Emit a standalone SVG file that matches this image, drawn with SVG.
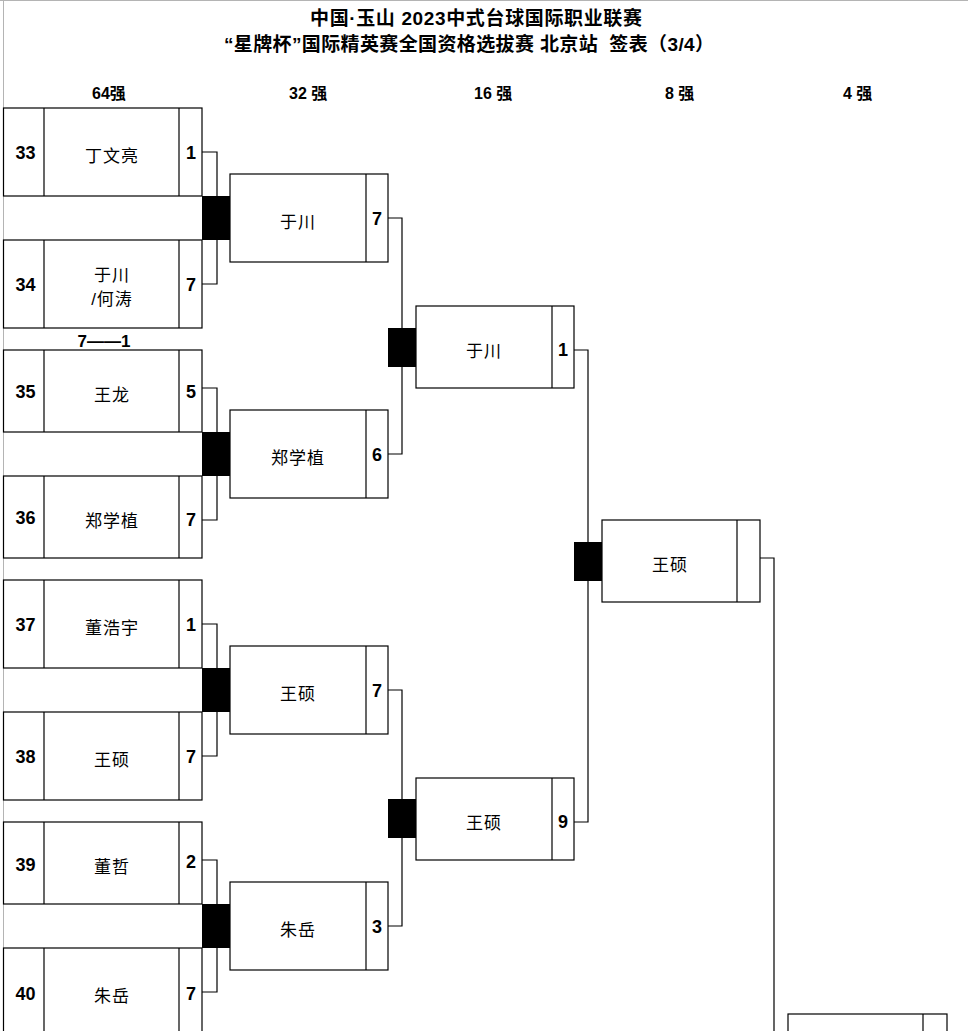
<svg xmlns="http://www.w3.org/2000/svg" width="968" height="1031" viewBox="0 0 968 1031">
<style>
.bg{fill:#ffffff}
.box{fill:#ffffff;stroke:#000;stroke-width:1.2}
.div{stroke:#000;stroke-width:1.2}
.jn{fill:#000}
.con{fill:none;stroke:#000;stroke-width:1.2}
.edge{stroke:#b4b4b4;stroke-width:1}
.t{font-family:"Liberation Sans","Noto Sans CJK SC",sans-serif;fill:#000}
.title{font-size:19px;font-weight:bold;white-space:pre}
.hd{font-size:16px;font-weight:bold}
.seed{font-size:18px;font-weight:bold;text-anchor:middle}
.nm{font-size:17px;letter-spacing:1px;text-anchor:middle}
.sc{font-size:18px;font-weight:bold;text-anchor:middle}
</style>
<rect class="bg" x="0" y="0" width="968" height="1031"/>
<line class="edge" x1="0" y1="0.5" x2="968" y2="0.5"/>
<line class="edge" x1="3.5" y1="0" x2="3.5" y2="1031"/>

<g id="title">
<text class="t title" x="310" y="25" textLength="332" lengthAdjust="spacing">中国·玉山 2023中式台球国际职业联赛</text>
<text class="t title" x="224" y="51" textLength="490" lengthAdjust="spacing" xml:space="preserve">“星牌杯”国际精英赛全国资格选拔赛 北京站  签表（3/4）</text>
</g>
<g id="headers">
<text class="t hd" x="92" y="99">64强</text>
<text class="t hd" x="289" y="99">32 强</text>
<text class="t hd" x="474" y="99">16 强</text>
<text class="t hd" x="665" y="99">8 强</text>
<text class="t hd" x="843" y="99">4 强</text>
</g>

<g id="connectors">
<path class="con" d="M202,152H217V196 M202,284H217V240"/>
<path class="con" d="M202,388H217V432 M202,520H217V476"/>
<path class="con" d="M202,624H217V668 M202,756H217V712"/>
<path class="con" d="M202,860H217V904 M202,992H217V948"/>
<path class="con" d="M388,218H402V328 M388,454H402V367"/>
<path class="con" d="M388,690H402V799 M388,926H402V838"/>
<path class="con" d="M574,350H588V542 M574,822H588V581"/>
<path class="con" d="M760,558H774V1031"/>
</g>

<g id="junctions">
<rect class="jn" x="202" y="196" width="28" height="44"/>
<rect class="jn" x="202" y="432" width="28" height="44"/>
<rect class="jn" x="202" y="668" width="28" height="44"/>
<rect class="jn" x="202" y="904" width="28" height="44"/>
<rect class="jn" x="388" y="328" width="28" height="39"/>
<rect class="jn" x="388" y="799" width="28" height="39"/>
<rect class="jn" x="574" y="542" width="28" height="39"/>
</g>

<g id="seed33">
<rect class="box" x="3.5" y="108" width="198.5" height="88"/>
<line class="div" x1="44" y1="108" x2="44" y2="196"/><line class="div" x1="179" y1="108" x2="179" y2="196"/>
<text class="t seed" x="25.5" y="159">33</text><text class="t nm" x="112" y="161.5">丁文亮</text><text class="t sc" x="191" y="159">1</text>
</g>
<g id="seed34">
<rect class="box" x="3.5" y="240" width="198.5" height="88"/>
<line class="div" x1="44" y1="240" x2="44" y2="328"/><line class="div" x1="179" y1="240" x2="179" y2="328"/>
<text class="t seed" x="25.5" y="291">34</text><text class="t nm" x="112" y="281">于川</text><text class="t nm" x="112" y="305">/何涛</text><text class="t sc" x="191" y="291">7</text>
</g>
<g id="score-note">
<text class="t" x="104" y="347" style="font-size:17px;font-weight:bold;text-anchor:middle">7——1</text>
</g>
<g id="seed35">
<rect class="box" x="3.5" y="350" width="198.5" height="82"/>
<line class="div" x1="44" y1="350" x2="44" y2="432"/><line class="div" x1="179" y1="350" x2="179" y2="432"/>
<text class="t seed" x="25.5" y="398">35</text><text class="t nm" x="112" y="401">王龙</text><text class="t sc" x="191" y="398">5</text>
</g>
<g id="seed36">
<rect class="box" x="3.5" y="476" width="198.5" height="82"/>
<line class="div" x1="44" y1="476" x2="44" y2="558"/><line class="div" x1="179" y1="476" x2="179" y2="558"/>
<text class="t seed" x="25.5" y="524">36</text><text class="t nm" x="112" y="527">郑学植</text><text class="t sc" x="191" y="526">7</text>
</g>
<g id="seed37">
<rect class="box" x="3.5" y="580" width="198.5" height="88"/>
<line class="div" x1="44" y1="580" x2="44" y2="668"/><line class="div" x1="179" y1="580" x2="179" y2="668"/>
<text class="t seed" x="25.5" y="631">37</text><text class="t nm" x="112" y="633.5">董浩宇</text><text class="t sc" x="191" y="631">1</text>
</g>
<g id="seed38">
<rect class="box" x="3.5" y="712" width="198.5" height="88"/>
<line class="div" x1="44" y1="712" x2="44" y2="800"/><line class="div" x1="179" y1="712" x2="179" y2="800"/>
<text class="t seed" x="25.5" y="763">38</text><text class="t nm" x="112" y="765.5">王硕</text><text class="t sc" x="191" y="763">7</text>
</g>
<g id="seed39">
<rect class="box" x="3.5" y="822" width="198.5" height="82"/>
<line class="div" x1="44" y1="822" x2="44" y2="904"/><line class="div" x1="179" y1="822" x2="179" y2="904"/>
<text class="t seed" x="25.5" y="871">39</text><text class="t nm" x="112" y="873">董哲</text><text class="t sc" x="191" y="868">2</text>
</g>
<g id="seed40">
<rect class="box" x="3.5" y="948" width="198.5" height="88"/>
<line class="div" x1="44" y1="948" x2="44" y2="1036"/><line class="div" x1="179" y1="948" x2="179" y2="1036"/>
<text class="t seed" x="25.5" y="1000">40</text><text class="t nm" x="112" y="1002">朱岳</text><text class="t sc" x="191" y="1000">7</text>
</g>

<g id="r32-1">
<rect class="box" x="230" y="174" width="158" height="88"/><line class="div" x1="366" y1="174" x2="366" y2="262"/>
<text class="t nm" x="298" y="227.5">于川</text><text class="t sc" x="377" y="225">7</text>
</g>
<g id="r32-2">
<rect class="box" x="230" y="410" width="158" height="88"/><line class="div" x1="366" y1="410" x2="366" y2="498"/>
<text class="t nm" x="298" y="463.5">郑学植</text><text class="t sc" x="377" y="461">6</text>
</g>
<g id="r32-3">
<rect class="box" x="230" y="646" width="158" height="88"/><line class="div" x1="366" y1="646" x2="366" y2="734"/>
<text class="t nm" x="298" y="699.5">王硕</text><text class="t sc" x="377" y="697">7</text>
</g>
<g id="r32-4">
<rect class="box" x="230" y="882" width="158" height="88"/><line class="div" x1="366" y1="882" x2="366" y2="970"/>
<text class="t nm" x="298" y="935.5">朱岳</text><text class="t sc" x="377" y="933">3</text>
</g>

<g id="r16-1">
<rect class="box" x="416" y="306" width="158" height="82"/><line class="div" x1="552" y1="306" x2="552" y2="388"/>
<text class="t nm" x="484" y="356.5">于川</text><text class="t sc" x="563" y="356">1</text>
</g>
<g id="r16-2">
<rect class="box" x="416" y="778" width="158" height="82"/><line class="div" x1="552" y1="778" x2="552" y2="860"/>
<text class="t nm" x="484" y="828.5">王硕</text><text class="t sc" x="563" y="828">9</text>
</g>

<g id="r8-1">
<rect class="box" x="602" y="520" width="158" height="82"/><line class="div" x1="737" y1="520" x2="737" y2="602"/>
<text class="t nm" x="670" y="570.5">王硕</text>
</g>

<g id="r4-1">
<rect class="box" x="788" y="1014" width="159" height="30"/><line class="div" x1="923" y1="1014" x2="923" y2="1044"/>
</g>
</svg>
